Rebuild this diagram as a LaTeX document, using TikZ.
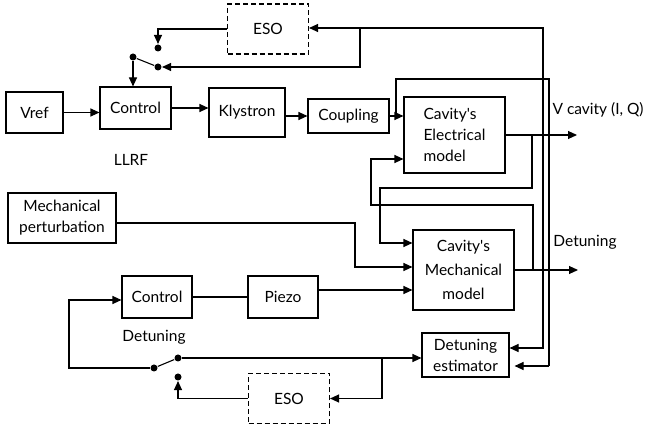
\documentclass[tikz,border=0pt]{standalone}
\usepackage{fontspec}
\setmainfont{Lato}
\usetikzlibrary{arrows.meta}

\begin{document}
\begin{tikzpicture}[x=1pt, y=-1pt, line width=1.1pt,
  >={Triangle[length=9pt, width=8pt]},
  font=\fontsize{15.5}{21}\selectfont,
  blk/.style={rectangle, draw, align=center, inner sep=2pt},
  esobox/.style={blk, dash pattern=on 5pt off 3pt,
                 minimum width=81pt, minimum height=50pt},
  contact/.style={circle, fill, inner sep=0pt, minimum size=7pt}]
  \useasboundingbox (0,0) rectangle (646,427);

  % RF chain
  \node[esobox] (esoT) at (268,29) {ESO};
  \node[blk, minimum width=57, minimum height=41] (vref) at (34.5,112.5) {Vref};
  \node[blk, minimum width=71, minimum height=42] (ctl1) at (135.5,108) {Control};
  \node[blk, minimum width=76, minimum height=49] (kly) at (247,112.5) {Klystron};
  \node[blk, minimum width=81, minimum height=34] (coup) at (348.5,116) {Coupling};
  \node[blk, align=left, minimum width=101, minimum height=76] (cavE) at (454.5,135)
    {Cavity\textquotesingle s\\Electrical\\model};
  \node (llrf) at (131,160) {LLRF};

  % mechanical chain
  \node[blk, minimum width=108, minimum height=50] (pert) at (62,218)
    {Mechanical\\perturbation};
  \node[blk, minimum width=101, minimum height=80, font=\fontsize{15.5}{24}\selectfont]
    (cavM) at (463.5,270) {Cavity\textquotesingle s\\Mechanical\\model};
  \node[blk, minimum width=70, minimum height=42] (ctl2) at (157,297) {Control};
  \node[blk, minimum width=70, minimum height=42] (piezo) at (283,297) {Piezo};
  \node[blk, minimum width=87, minimum height=44] (est) at (465.5,355)
    {Detuning\\estimator};
  \node[esobox] (esoB) at (289,398.5) {ESO};
  \node (detl) at (154,337) {Detuning};

  % outputs
  \node (vlab) at (598,110) {V cavity (I, Q)};
  \node (dlab) at (585,242) {Detuning};

  % switches
  \node[contact] (swTp) at (133,57) {};
  \node[contact] (swTa) at (158,48) {};
  \node[contact] (swTb) at (158,67) {};
  \node[contact] (swBp) at (154,368) {};
  \node[contact] (swBa) at (178,358) {};
  \node[contact] (swBb) at (178,377) {};

  \draw[->] (vref) -- (ctl1.west |- vref);
  \draw[->] (ctl1.east) -- (kly.west |- ctl1.east);
  \draw[->] (kly.east |- coup.west) -- (coup.west);
  \draw[->] (coup.east) -- (coup.east -| cavE.west);
  \coordinate (jc) at (396,116);
  \draw (jc) |- (549,79) -- (549,366);
  \draw[->, shorten >=5pt] (549,366) -- (est.east |- 0,366);
  \draw[<->] (est.east |- 0,348) -- (543,348) -- (543,28) -- (esoT.east |- 0,28);
  \draw[->] (360,28) |- (swTb);
  \draw[->] (esoT.west) -| (swTa);
  \draw (swTp) -- (swTb);
  \draw[->] (swTp) -- (swTp |- ctl1.north);

  \draw[->] (cavE.east) -- (577,135) coordinate (vout);
  \coordinate (brE) at (532,135);
  \draw[->] (brE) |- (380,188) |- (cavM.west |- 0,243);
  \draw[->] (cavM.east) -- (578,270) coordinate (dout);
  \coordinate (brM) at (533,270);
  \draw[->] (brM) |- (371,205) |- (cavE.west |- 0,159);

  \draw[->] (pert.east |- 0,223) -| (355,267) -- (cavM.west |- 0,267);
  \draw[->] (piezo.east |- 0,290) -- (cavM.west |- 0,290);
  \draw (ctl2) -- (piezo);

  \draw (swBp) -- (swBa);
  \draw[->] (swBp) -| (69,300) -- (ctl2.west |- 0,300);
  \draw[->] (swBa) -- (est.west |- swBa);
  \draw[->] (382,358) |- (esoB.east);
  \draw[->] (esoB.west) -| (swBb);
\end{tikzpicture}
\end{document}
